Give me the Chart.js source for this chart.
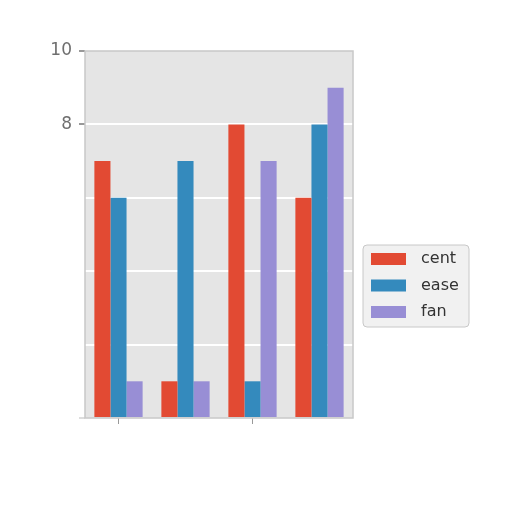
<!DOCTYPE html>
<html>
<head>
<meta charset="utf-8">
<script src="https://cdn.jsdelivr.net/npm/chart.js@4"></script>
<style>
  html, body { margin: 0; padding: 0; background: #fff; }
  #wrap { width: 512px; height: 512px; }
</style>
</head>
<body>
<div id="wrap"><canvas id="grafico" width="512" height="512"></canvas></div>
<script>
// categories have no visible labels in the picture
const categorias = ["", "", "", ""];
const series = ["cent", "ease", "fan"];
const cent = [7, 1, 8, 6];
const ease = [6, 7, 1, 8];
const fan = [1, 1, 7, 9];
const yTicksShown = [8, 10];
const colores = ["#E24A33", "#348ABD", "#988ED5"];

// gray panel behind the bars, like ggplot style
const fondo = {
  id: "fondo",
  beforeDraw(chart) {
    const { ctx, chartArea: a } = chart;
    ctx.save();
    ctx.fillStyle = "#E5E5E5";
    ctx.fillRect(a.left, a.top, a.right - a.left, a.bottom - a.top);
    ctx.restore();
  },
  afterDraw(chart) {
    const { ctx, chartArea: a } = chart;
    ctx.save();
    ctx.strokeStyle = "#c8c8c8";
    ctx.lineWidth = 1.5;
    ctx.strokeRect(a.left, a.top, a.right - a.left, a.bottom - a.top);

    // legend box outside the plot, to the right
    const x = 363, y = 245, w = 106, h = 82;
    ctx.fillStyle = "rgba(240,240,240,0.9)";
    ctx.strokeStyle = "#c8c8c8";
    ctx.lineWidth = 1;
    ctx.beginPath();
    ctx.roundRect(x, y, w, h, 4);
    ctx.fill();
    ctx.stroke();
    ctx.font = "16px 'DejaVu Sans'";
    ctx.textBaseline = "middle";
    chart.data.datasets.forEach((ds, i) => {
      const cy = y + 14 + i * 26.5;
      ctx.fillStyle = ds.backgroundColor;
      ctx.fillRect(x + 8, cy - 6, 35, 12);
      ctx.fillStyle = "#333";
      ctx.fillText(ds.label, x + 58, cy);
    });
    ctx.restore();
  }
};

new Chart(document.getElementById("grafico"), {
  type: "bar",
  data: {
    labels: categorias,
    datasets: [
      { label: series[0], data: cent, backgroundColor: colores[0] },
      { label: series[1], data: ease, backgroundColor: colores[1] },
      { label: series[2], data: fan, backgroundColor: colores[2] }
    ]
  },
  options: {
    responsive: false,
    animation: false,
    devicePixelRatio: 1,
    datasets: {
      bar: { barPercentage: 1, categoryPercentage: 0.72 }
    },
    layout: { padding: { left: 0, top: 51, right: 159, bottom: 0 } },
    plugins: {
      legend: { display: false },
      tooltip: { enabled: false }
    },
    scales: {
      x: {
        afterFit: s => { s.height = 94; },
        border: { display: false },
        grid: {
          offset: false,
          color: "rgba(0,0,0,0)",
          tickColor: c => (c.index === 0 || c.index === 2) ? "#999" : "rgba(0,0,0,0)",
          tickLength: 6
        },
        ticks: { display: true, font: { size: 1 }, color: "rgba(0,0,0,0)" }
      },
      y: {
        min: 0,
        max: 10,
        afterFit: s => { s.width = 85; },
        border: { display: false },
        grid: {
          color: c => (c.tick.value === 0 || c.tick.value === 10) ? "rgba(0,0,0,0)" : "#ffffff",
          lineWidth: 2,
          tickColor: c => yTicksShown.includes(c.tick.value) ? "#999" : (c.tick.value === 0 ? "#ddd" : "rgba(0,0,0,0)"),
          tickLength: 6
        },
        ticks: {
          stepSize: 2,
          padding: 7,
          color: "#6f6f6f",
          font: { family: "DejaVu Sans", size: 17 },
          callback: v => yTicksShown.includes(v) ? String(v) : ""
        }
      }
    }
  },
  plugins: [fondo]
});
</script>
</body>
</html>
